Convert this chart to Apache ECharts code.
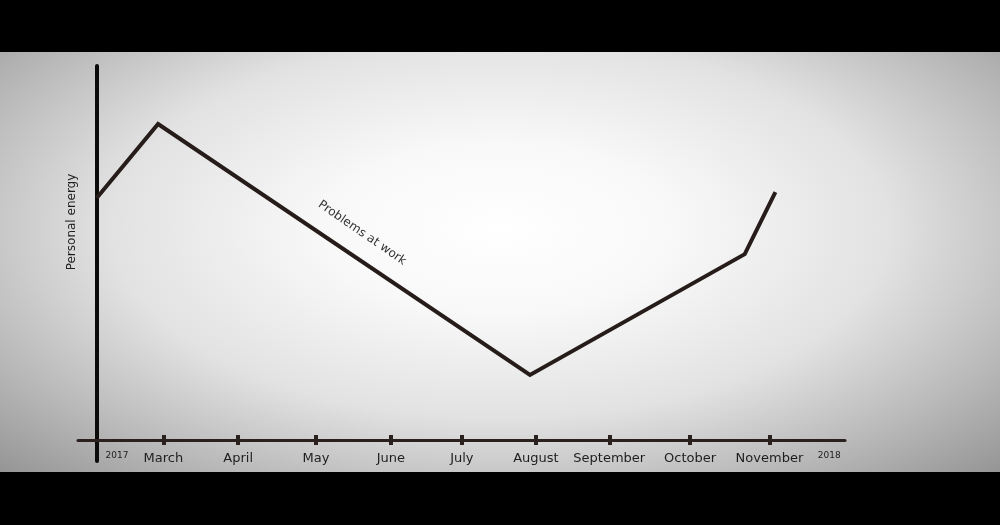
<!DOCTYPE html>
<html>
<head>
<meta charset="utf-8">
<script src="https://cdn.jsdelivr.net/npm/echarts@6/dist/echarts.min.js"></script>
<style>
  html, body { margin: 0; padding: 0; width: 1000px; height: 525px; background: #000; overflow: hidden; }
  #chart {
    position: absolute; left: 0; top: 52px; width: 1000px; height: 420px;
    background: radial-gradient(ellipse farthest-corner at 50% 42%, #ffffff 0%, #f8f8f8 25%, #e2e2e2 55%, #b8b8b8 80%, #959595 100%);
  }
</style>
</head>
<body>
<div id="chart"></div>
<script>
// Axis tick labels (months) and their positions along the time axis (in months since start)
const monthLabels = ['March', 'April', 'May', 'June', 'July', 'August', 'September', 'October', 'November'];
const monthPos = [0.89, 1.89, 2.93, 3.93, 4.88, 5.87, 6.85, 7.93, 8.99];
const yearLabels = ['2017', '2018'];
const yearPos = [0.27, 9.79];

// Personal energy curve
const energyX = [0, 0.82, 5.79, 8.66, 9.07];
const energyY = [64.7, 84.5, 17.4, 49.7, 66.3];

const allLabelPos = monthPos.concat(yearPos);
const allLabelText = monthLabels.concat(yearLabels);

function labelFor(v) {
  let best = 0, bd = Infinity;
  allLabelPos.forEach((p, i) => { const d = Math.abs(p - v); if (d < bd) { bd = d; best = i; } });
  const txt = allLabelText[best];
  return best >= monthLabels.length ? '{yr|' + txt + '}' : '{m|' + txt + '}';
}

const chart = echarts.init(document.getElementById('chart'), null, { renderer: 'canvas' });
const axisColor = '#2a201d';

chart.setOption({
  backgroundColor: 'transparent',
  animation: false,
  textStyle: { fontFamily: 'DejaVu Sans' },
  grid: { left: 78, right: 155, top: 14, bottom: 11, containLabel: false, outerBoundsMode: 'none' },
  xAxis: [
    {
      type: 'value', min: -0.25, max: 10, offset: -21,
      axisLine: { show: true, onZero: false, lineStyle: { color: axisColor, width: 3 } },
      axisTick: { show: true, customValues: monthPos, length: 5, inside: false, lineStyle: { color: axisColor, width: 4 } },
      axisLabel: {
        show: true, customValues: allLabelPos, margin: 11,
        formatter: labelFor,
        rich: {
          m: { fontSize: 13, color: '#1e1e1e', fontFamily: 'DejaVu Sans', lineHeight: 16 },
          yr: { fontSize: 9, color: '#1e1e1e', fontFamily: 'DejaVu Sans', lineHeight: 9 }
        }
      },
      splitLine: { show: false }
    },
    {
      type: 'value', min: -0.25, max: 10, position: 'bottom', offset: -21,
      axisLine: { show: false, onZero: false },
      axisTick: { show: true, customValues: monthPos, length: 5, inside: true, lineStyle: { color: axisColor, width: 4 } },
      axisLabel: { show: false },
      splitLine: { show: false }
    }
  ],
  yAxis: {
    type: 'value', min: -5.6, max: 100,
    axisLine: { show: true, onZero: true, lineStyle: { color: '#0d0b0a', width: 4 } },
    axisTick: { show: false },
    axisLabel: { show: false },
    splitLine: { show: false }
  },
  series: [{
    type: 'line',
    xAxisIndex: 0,
    data: energyX.map((x, i) => [x, energyY[i]]),
    showSymbol: false,
    symbol: 'none',
    lineStyle: { color: '#261c19', width: 4, cap: 'butt', join: 'miter' }
  }],
  graphic: [
    {
      type: 'text', x: 72, y: 170, rotation: Math.PI / 2,
      style: { text: 'Personal energy', fontSize: 12, fill: '#1e1e1e', fontFamily: 'DejaVu Sans', align: 'center', verticalAlign: 'middle' }
    },
    {
      type: 'text', x: 362, y: 181, rotation: -0.603,
      style: { text: 'Problems at work', fontSize: 12, fill: '#333', fontFamily: 'DejaVu Sans', align: 'center', verticalAlign: 'middle' }
    }
  ]
});
</script>
</body>
</html>
